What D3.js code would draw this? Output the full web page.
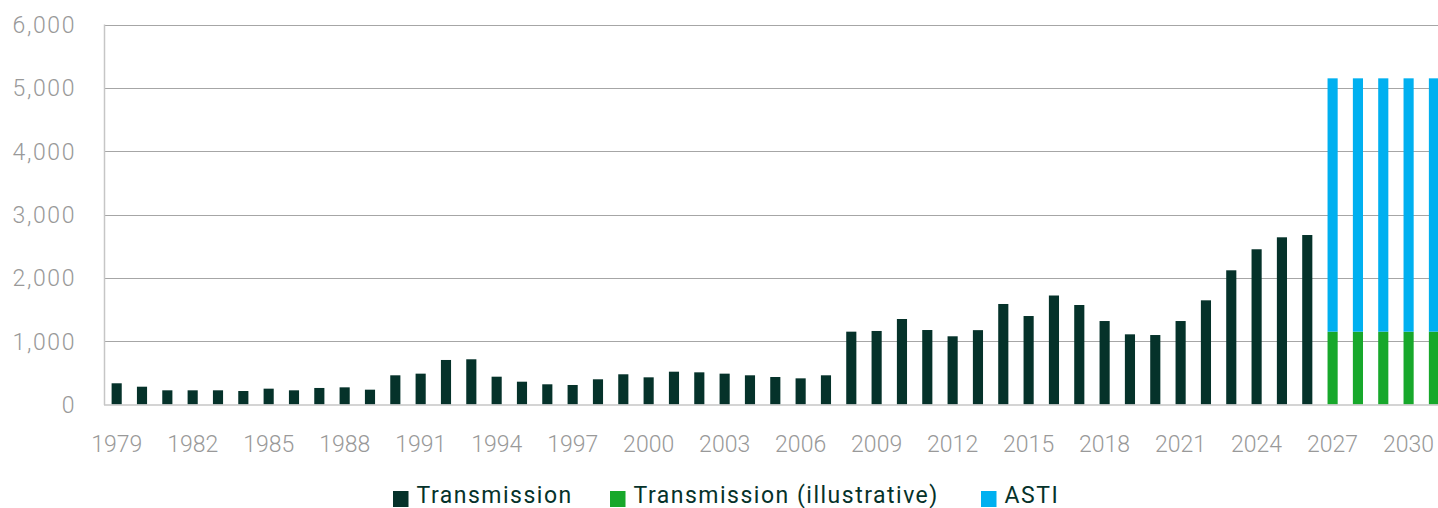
<!DOCTYPE html>
<html><head><meta charset="utf-8">
<script src="https://cdn.jsdelivr.net/npm/d3@7"></script>
<style>
html,body{margin:0;padding:0;background:#fff;overflow:hidden}
text{font-family:Roboto,"Noto Sans",sans-serif}
</style></head>
<body><svg id="c" width="1438" height="508"></svg>
<script>
const years = d3.range(1979, 2032).map(String);
const transmission = [335,281,224,224,224,213,250,224,261,271,234,461,487,703,714,
  439,360,319,308,398,477,429,518,508,487,461,434,413,461,
  1150,1161,1350,1176,1077,1174,1587,1397,1721,1571,1318,1108,1097,1318,1645,2119,2451,2640,2676,
  0,0,0,0,0];
const transmissionIllustrative = [...Array(48).fill(0), 1150,1150,1150,1150,1150];
const asti = [...Array(48).fill(0), 4000,4000,4000,4000,4000];
const yTicks = [0,1000,2000,3000,4000,5000,6000];
const xTickLabels = d3.range(1979, 2032, 3).map(String);
const seriesNames = ["Transmission","Transmission (illustrative)","ASTI"];
const seriesColors = ["#05322a","#17a82b","#00b0f0"];

const rows = years.map((y,i)=>({year:y, t:transmission[i], ti:transmissionIllustrative[i], a:asti[i]}));
const stack = d3.stack().keys(["t","ti","a"])(rows);

const svg = d3.select("#c");
const x = d3.scaleBand().domain(years).range([104, 1446.6]).paddingInner(0.6).paddingOuter(0.3);
const y = d3.scaleLinear().domain([0,6000]).range([404.5, 24.5]);

// gridlines
svg.append("g").selectAll("line").data(yTicks.filter(d=>d>0)).join("line")
  .attr("x1",104).attr("x2",1438).attr("y1",d=>Math.round(y(d))+0.5).attr("y2",d=>Math.round(y(d))+0.5)
  .attr("stroke","#a6a6a6").attr("stroke-width",1);

// bars
svg.append("g").selectAll("g").data(stack).join("g")
  .attr("fill",(d,i)=>seriesColors[i])
  .selectAll("rect").data(d=>d.filter(s=>s[1]-s[0]>0)).join("rect")
  .attr("x",d=>x(d.data.year)).attr("width",x.bandwidth())
  .attr("y",d=>y(d[1])).attr("height",d=>y(d[0])-y(d[1]));

// axes lines
svg.append("line").attr("x1",104.5).attr("x2",104.5).attr("y1",24.5).attr("y2",405)
  .attr("stroke","#c6c6c6").attr("stroke-width",1.5);
svg.append("line").attr("x1",104).attr("x2",1438).attr("y1",405).attr("y2",405)
  .attr("stroke","#c6c6c6").attr("stroke-width",1.5);

// y labels
const yAxis = d3.axisLeft(y).tickValues(yTicks).tickFormat(d3.format(",")).tickSize(0).tickPadding(0);
const ga = svg.append("g").attr("transform","translate(76,0)").call(yAxis);
ga.select(".domain").remove();
ga.selectAll("text").attr("fill","#999").attr("font-size",23).attr("font-weight",300)
  .attr("letter-spacing","1.6px").attr("dy","0.35em");

// x labels
const xAxis = d3.axisBottom(x).tickValues(xTickLabels).tickSize(0).tickPadding(0);
const gx = svg.append("g").attr("transform","translate(0,451.5)").call(xAxis);
gx.select(".domain").remove();
gx.selectAll("text").attr("fill","#999").attr("font-size",23).attr("font-weight",300)
  .attr("dy",0).attr("letter-spacing","0px");

// legend
const legendX = [393, 610, 981];
const lg = svg.append("g").selectAll("g").data(seriesNames).join("g")
  .attr("transform",(d,i)=>`translate(${legendX[i]},0)`);
lg.append("rect").attr("x",0).attr("y",491).attr("width",15.5).attr("height",16)
  .attr("fill",(d,i)=>seriesColors[i]);
lg.append("text").attr("x",23.5).attr("y",502.5).text(d=>d)
  .attr("fill","#05322a").attr("font-size",23).attr("letter-spacing","1.5px");
</script></body></html>
